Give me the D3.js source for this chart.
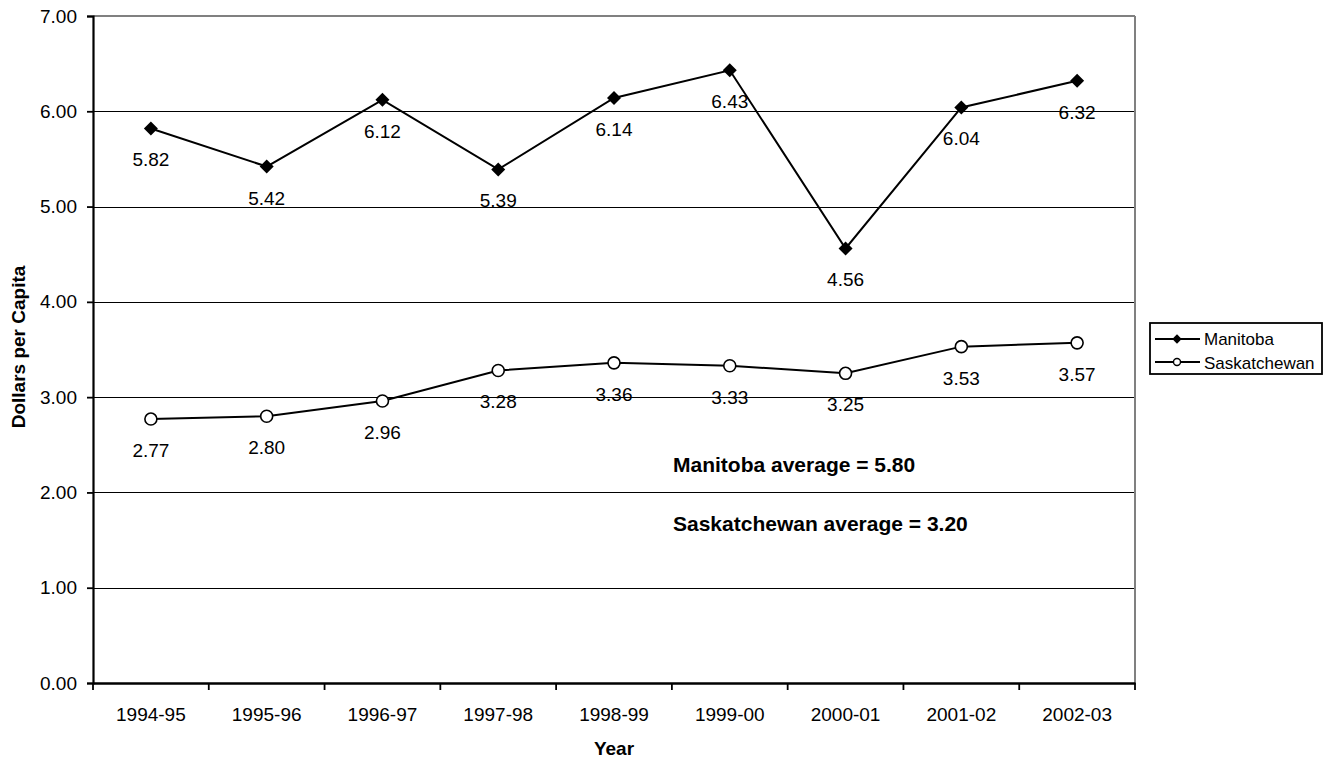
<!DOCTYPE html>
<html><head><meta charset="utf-8">
<script src="https://cdn.jsdelivr.net/npm/d3@7"></script>
<style>body{margin:0;background:#fff}svg{display:block}text{font-family:"Liberation Sans",Arial,sans-serif}</style>
</head><body>
<svg id="c" width="1333" height="759"></svg>
<script>
const years = ["1994-95","1995-96","1996-97","1997-98","1998-99","1999-00","2000-01","2001-02","2002-03"];
const manitoba = [5.82,5.42,6.12,5.39,6.14,6.43,4.56,6.04,6.32];
const saskatchewan = [2.77,2.80,2.96,3.28,3.36,3.33,3.25,3.53,3.57];
const yTicks = [0,1,2,3,4,5,6,7];
const seriesNames = ["Manitoba","Saskatchewan"];
const notes = ["Manitoba average = 5.80","Saskatchewan average = 3.20"];

const svg = d3.select("#c");
const L=93, R=1135, T=16, B=683;
const x = d3.scaleBand().domain(years).range([L,R]);
const y = d3.scaleLinear().domain([0,7]).range([B,T]);
const FF = "'Liberation Sans',Arial,sans-serif";

// gridlines
svg.append("g").selectAll("line").data(yTicks.filter(d=>d>0&&d<7)).join("line")
  .attr("x1",L).attr("x2",R).attr("y1",d=>Math.round(y(d))+0.5).attr("y2",d=>Math.round(y(d))+0.5)
  .attr("stroke","#000").attr("stroke-width",1.2);
// top & right border
svg.append("line").attr("x1",L).attr("x2",R).attr("y1",y(7)).attr("y2",y(7)).attr("stroke","#808080").attr("stroke-width",1.8);
svg.append("line").attr("x1",R).attr("x2",R).attr("y1",y(7)).attr("y2",B).attr("stroke","#808080").attr("stroke-width",2);

// y axis
const ya = svg.append("g").attr("transform",`translate(${L},0)`)
  .call(d3.axisLeft(y).tickValues(yTicks).tickFormat(d3.format(".2f")).tickSize(6).tickPadding(10));
ya.select(".domain").attr("stroke","#000").attr("stroke-width",2.2);
ya.selectAll(".tick line").attr("stroke","#000").attr("stroke-width",1.8);
ya.selectAll("text").attr("font-size",19).attr("fill","#000").style("font-family",FF);

// x axis
const xa = svg.append("g").attr("transform",`translate(0,${B})`)
  .call(d3.axisBottom(x).tickSize(0).tickPadding(25));
xa.select(".domain").attr("stroke","#000").attr("stroke-width",2.5);
xa.selectAll("text").attr("font-size",19).attr("fill","#000").style("font-family",FF);
const bounds = years.map(d=>x(d)).concat([R]);
svg.append("g").selectAll("line").data(bounds).join("line")
  .attr("x1",d=>d).attr("x2",d=>d).attr("y1",B).attr("y2",B+7)
  .attr("stroke","#000").attr("stroke-width",1.8);

// axis titles
svg.append("text").attr("x",(L+R)/2).attr("y",755).attr("text-anchor","middle")
  .attr("font-size",19).attr("font-weight","bold").text("Year");
svg.append("text").attr("transform",`translate(25,347) rotate(-90)`).attr("text-anchor","middle")
  .attr("font-size",19).attr("font-weight","bold").text("Dollars per Capita");

const cx = d=>x(d)+x.bandwidth()/2;
const line = d3.line().x(d=>cx(d.k)).y(d=>y(d.v));
const mData = years.map((k,i)=>({k,v:manitoba[i]}));
const sData = years.map((k,i)=>({k,v:saskatchewan[i]}));

svg.append("path").datum(mData).attr("d",line).attr("fill","none").attr("stroke","#000").attr("stroke-width",2);
svg.append("path").datum(sData).attr("d",line).attr("fill","none").attr("stroke","#000").attr("stroke-width",2);

const diamond = (s)=>`M0,${-s}L${s},0L0,${s}L${-s},0Z`;
svg.append("g").selectAll("path").data(mData).join("path")
  .attr("transform",d=>`translate(${cx(d.k)},${y(d.v)})`).attr("d",diamond(7)).attr("fill","#000");
svg.append("g").selectAll("circle").data(sData).join("circle")
  .attr("cx",d=>cx(d.k)).attr("cy",d=>y(d.v)).attr("r",6).attr("fill","#fff").attr("stroke","#000").attr("stroke-width",1.6);

// data labels
const lab = (data)=>svg.append("g").selectAll("text").data(data).join("text")
  .attr("x",d=>cx(d.k)).attr("y",d=>y(d.v)+38).attr("text-anchor","middle")
  .attr("font-size",19).attr("fill","#000").text(d=>d.v.toFixed(2));
lab(mData); lab(sData);

// notes
svg.append("text").attr("x",673).attr("y",472).attr("font-size",21).attr("font-weight","bold").text(notes[0]);
svg.append("text").attr("x",673).attr("y",531).attr("font-size",21).attr("font-weight","bold").text(notes[1]);

// legend
const lg = svg.append("g");
lg.append("rect").attr("x",1150).attr("y",323).attr("width",172).attr("height",51).attr("fill","#fff").attr("stroke","#000").attr("stroke-width",1.8);
seriesNames.forEach((n,i)=>{
  const yy = 339 + i*23;
  lg.append("line").attr("x1",1155).attr("x2",1200).attr("y1",yy).attr("y2",yy).attr("stroke","#000").attr("stroke-width",1.8);
  if(i===0) lg.append("path").attr("transform",`translate(1177,${yy})`).attr("d",diamond(4.7)).attr("fill","#000");
  else lg.append("circle").attr("cx",1177).attr("cy",yy).attr("r",3.5).attr("fill","#fff").attr("stroke","#000").attr("stroke-width",1.4);
  lg.append("text").attr("x",1204).attr("y",yy+6+i*1).attr("font-size",17).text(n);
});
</script>
</body></html>
